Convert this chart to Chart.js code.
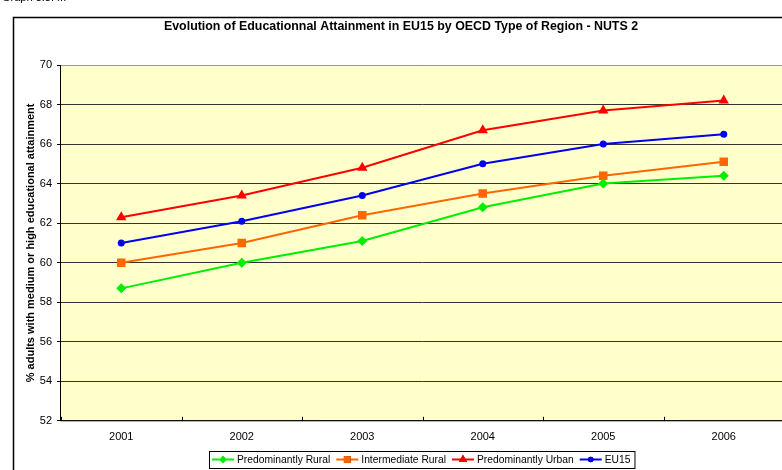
<!DOCTYPE html>
<html>
<head>
<meta charset="utf-8">
<script src="https://cdn.jsdelivr.net/npm/chart.js@4.4.0/dist/chart.umd.min.js"></script>
<style>
  html, body { margin: 0; padding: 0; background: #fff; overflow: hidden; }
  #wrap { position: absolute; left: 0; top: 0; width: 844px; height: 470px; }
</style>
</head>
<body>
<div id="wrap"><canvas id="myChart" width="844" height="470"></canvas></div>
<script>
// data
const years = ['2001', '2002', '2003', '2004', '2005', '2006'];
const rural = [58.7, 60.0, 61.1, 62.8, 64.0, 64.4];
const intermediate = [60.0, 61.0, 62.4, 63.5, 64.4, 65.1];
const urban = [62.3, 63.4, 64.8, 66.7, 67.7, 68.2];
const eu15 = [61.0, 62.1, 63.4, 65.0, 66.0, 66.5];
const yTicks = [52, 54, 56, 58, 60, 62, 64, 66, 68, 70];

const chartTitle = 'Evolution of Educationnal Attainment in EU15 by OECD Type of Region - NUTS 2';
const yTitle = '% adults with medium or high educational attainment';
const font = '"Liberation Sans", Arial, sans-serif';

// frame, plot background, titles and the boxed legend
const decor = {
    id: 'decor',
    beforeDraw(chart) {
        const ctx = chart.ctx;
        const a = chart.chartArea;
        ctx.save();
        ctx.fillStyle = '#FFFFCC';
        ctx.fillRect(a.left, a.top, a.right - a.left, a.bottom - a.top);
        ctx.restore();
    },
    afterDraw(chart) {
        const ctx = chart.ctx;
        const a = chart.chartArea;
        ctx.save();
        // outer frame
        ctx.strokeStyle = '#000';
        ctx.lineWidth = 1.5;
        ctx.beginPath();
        ctx.moveTo(13.5, 480);
        ctx.lineTo(13.5, 17.5);
        ctx.lineTo(850, 17.5);
        ctx.stroke();
        // cut-off caption on top
        ctx.fillStyle = '#000';
        ctx.font = '11px ' + font;
        ctx.textBaseline = 'alphabetic';
        ctx.fillText('Graph 3.3.4.:', 2, 1);
        // plot borders
        ctx.lineWidth = 1;
        ctx.strokeStyle = '#999';
        ctx.beginPath();
        ctx.moveTo(a.left, a.top + 0.5);
        ctx.lineTo(a.right, a.top + 0.5);
        ctx.stroke();
        ctx.strokeStyle = '#000';
        ctx.beginPath();
        ctx.moveTo(a.left - 0.5, a.top);
        ctx.lineTo(a.left - 0.5, a.bottom);
        ctx.lineTo(a.right, a.bottom);
        ctx.stroke();
        // x inner ticks at category boundaries
        const xs = chart.scales.x;
        const half = (xs.getPixelForValue(1) - xs.getPixelForValue(0)) / 2;
        ctx.beginPath();
        for (let i = 0; i <= years.length; i++) {
            const px = Math.round(xs.getPixelForValue(i) - half) + 0.5;
            ctx.moveTo(px, a.bottom);
            ctx.lineTo(px, a.bottom - 4);
        }
        ctx.stroke();
        // title
        ctx.font = 'bold 12.4px ' + font;
        ctx.textAlign = 'center';
        ctx.textBaseline = 'middle';
        ctx.fillText(chartTitle, 401, 27);
        // y title
        ctx.font = 'bold 11px ' + font;
        ctx.translate(31, (a.top + a.bottom) / 2);
        ctx.rotate(-Math.PI / 2);
        ctx.fillText(yTitle, 0, 0);
        ctx.restore();

        // legend
        ctx.save();
        ctx.font = '10.3px ' + font;
        ctx.textBaseline = 'middle';
        const sample = 22, gap = 3, between = 6, pad = 3;
        let total = pad;
        chart.data.datasets.forEach((d, i) => {
            total += sample + gap + ctx.measureText(d.label).width + (i < chart.data.datasets.length - 1 ? between : 0);
        });
        total += pad + 1;
        const left = 209;
        const top = 451, h = 17, cy = top + h / 2;
        ctx.fillStyle = '#fff';
        ctx.fillRect(left, top, total, h);
        ctx.strokeStyle = '#000';
        ctx.lineWidth = 1;
        ctx.strokeRect(left + 0.5, top + 0.5, total, h);
        let x = left + pad;
        chart.data.datasets.forEach(d => {
            ctx.strokeStyle = d.borderColor;
            ctx.lineWidth = 2;
            ctx.beginPath();
            ctx.moveTo(x, cy);
            ctx.lineTo(x + sample, cy);
            ctx.stroke();
            Chart.helpers.drawPoint(ctx, {
                pointStyle: d.pointStyle,
                radius: d.pointRadius * 0.8,
                rotation: 0,
                borderWidth: 0
            }, x + sample / 2, cy);
            ctx.fillStyle = d.pointBackgroundColor;
            ctx.fill();
            ctx.fillStyle = '#000';
            ctx.fillText(d.label, x + sample + gap, cy + 1);
            x += sample + gap + ctx.measureText(d.label).width + between;
        });
        ctx.restore();
    }
};

function series(label, data, color, style, r) {
    return {
        label: label,
        data: data,
        borderColor: color,
        backgroundColor: color,
        pointBackgroundColor: color,
        pointBorderColor: color,
        pointStyle: style,
        pointRadius: r,
        pointBorderWidth: 0,
        borderWidth: 2,
        tension: 0
    };
}

new Chart(document.querySelector('#myChart').getContext('2d'), {
    type: 'line',
    data: {
        labels: years,
        datasets: [
            series('Predominantly Rural', rural, '#00EE00', 'rectRot', 5),
            series('Intermediate Rural', intermediate, '#FF6600', 'rect', 6),
            series('Predominantly Urban', urban, '#FF0000', 'triangle', 6),
            series('EU15', eu15, '#0000EE', 'circle', 3.5)
        ]
    },
    options: {
        responsive: false,
        animation: false,
        layout: { padding: { top: 65, right: 60, bottom: 24, left: 0 } },
        plugins: {
            legend: { display: false },
            title: { display: false },
            tooltip: { enabled: false }
        },
        scales: {
            x: {
                offset: true,
                grid: { display: false },
                border: { display: false },
                ticks: { color: '#000', font: { family: font, size: 11 }, padding: 2 }
            },
            y: {
                min: 52,
                max: 70,
                afterBuildTicks: s => { s.ticks = yTicks.map(v => ({ value: v })); },
                grid: { color: '#333', lineWidth: 1, tickLength: 4, tickColor: '#000' },
                border: { display: false },
                ticks: { color: '#000', font: { family: font, size: 11 }, padding: 5 },
                afterFit: s => { s.width = 61; }
            }
        }
    },
    plugins: [decor]
});
</script>
</body>
</html>
